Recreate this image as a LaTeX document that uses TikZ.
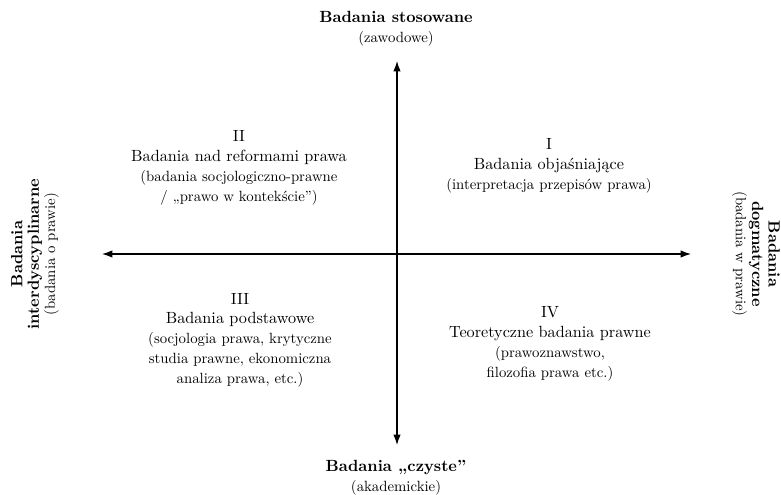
\documentclass[tikz,border=0pt]{standalone}
\usepackage{fontspec}
\setmainfont{Latin Modern Roman}
\usetikzlibrary{arrows.meta}
\newcommand\smtxt{\fontsize{10}{13.4}\selectfont}
\begin{document}
\begin{tikzpicture}[x=0.6757pt,y=-0.6757pt,
  axis/.style={line width=0.75pt,{Latex[length=7pt,width=5pt]}-{Latex[length=7pt,width=5pt]}},
  quad/.style={align=center,inner sep=0pt,font=\fontsize{10.95}{13.4}\selectfont},
  pole/.style={align=center,inner sep=0pt,font=\fontsize{10.95}{13.4}\selectfont},
  side/.style={align=center,inner sep=0pt,font=\fontsize{10.95}{11}\selectfont},
]
\useasboundingbox (0,0) rectangle (781,495);
\coordinate (L) at (102,254);
\coordinate (R) at (691,254);
\coordinate (T) at (397,61);
\coordinate (B) at (397,445);
\draw[axis] (L) -- (R);
\draw[axis] (B) -- (T);

\node[pole] (top) at (396,28.5) {\textbf{Badania stosowane}\\ {\smtxt (zawodowe)}};
\node[pole] (bottom) at (396,478) {\textbf{Badania „czyste”}\\ {\smtxt (akademickie)}};
\node[side,rotate=90] (left) at (35,254) {\textbf{Badania}\\ \textbf{interdyscyplinarne}\\ {\smtxt (badania o prawie)}};
\node[side,rotate=-90] (right) at (756,254) {\textbf{Badania}\\ \textbf{dogmatyczne}\\ {\smtxt (badania w prawie)}};

\node[quad] (q1) at (549,166) {I\\ Badania objaśniające\\ {\smtxt (interpretacja przepisów prawa)}};
\node[quad] (q2) at (239,168) {II\\ Badania nad reformami prawa\\ {\smtxt (badania socjologiczno-prawne}\\ {\smtxt / „prawo w kontekście”)}};
\node[quad] (q3) at (240,340) {III\\ Badania podstawowe\\ {\smtxt (socjologia prawa, krytyczne}\\ {\smtxt studia prawne, ekonomiczna}\\ {\smtxt analiza prawa, etc.)}};
\node[quad] (q4) at (550,344) {IV\\ Teoretyczne badania prawne\\ {\smtxt (prawoznawstwo,}\\ {\smtxt filozofia prawa etc.)}};
\end{tikzpicture}
\end{document}
